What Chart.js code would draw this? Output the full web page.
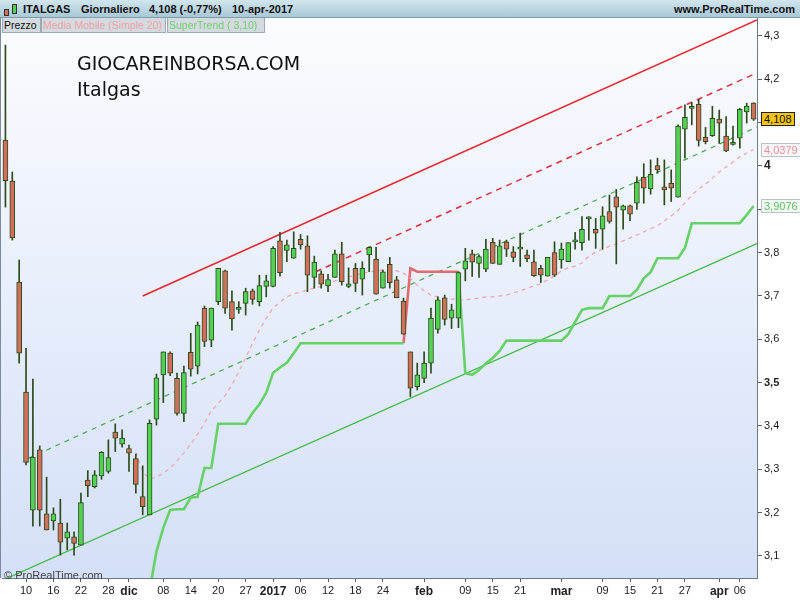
<!DOCTYPE html>
<html>
<head>
<meta charset="utf-8">
<script src="https://cdn.jsdelivr.net/npm/chart.js@4.4.1/dist/chart.umd.min.js"></script>
<style>
html,body{margin:0;padding:0;background:#fff;width:800px;height:600px;overflow:hidden;font-family:"Liberation Sans",Arial,sans-serif}
#hdr{position:absolute;left:0;top:0;width:800px;height:18px;background:linear-gradient(#d2e5ee,#a8c8d7);border-bottom:1px solid #7f9cab;box-sizing:border-box}
#hdr span{position:absolute;top:3px;font-size:11px;font-weight:bold;color:#111;white-space:nowrap}
#hdr i{position:absolute;border:1px solid #333;box-sizing:border-box}
#leg span{position:absolute;top:18px;height:15px;line-height:14px;font-size:10.5px;background:#d3dbe0;border:1px solid #9aaab4;border-top:none;box-sizing:border-box;padding:0 1px;white-space:nowrap;overflow:hidden;z-index:2}
#wrap{position:absolute;left:0;top:18px;width:800px;height:582px}
.wm{position:absolute;left:77px;font-family:"DejaVu Sans",sans-serif;font-size:19px;line-height:19px;color:#111;white-space:nowrap}
.vb{position:absolute;left:761px;top:-50px;height:14px;line-height:13px;font-size:11px;box-sizing:border-box;padding:0 2px;white-space:nowrap}
#copy{position:absolute;left:4px;top:569px;font-size:11px;color:#444}
</style>
</head>
<body>
<div id="hdr">
  <i style="left:4px;top:9px;width:5px;height:7px;background:#d0705a"></i>
  <i style="left:12px;top:4px;width:5px;height:10px;background:#50d050"></i>
  <span style="left:23px">ITALGAS</span>
  <span style="left:81px">Giornaliero</span>
  <span style="left:149px">4,108 (-0,77%)</span>
  <span style="left:232px">10-apr-2017</span>
  <span style="right:5px">www.ProRealTime.com</span>
</div>
<div id="leg">
  <span style="left:2px;width:39px;color:#111">Prezzo</span>
  <span style="left:41px;width:125px;color:#f2a0a4">Media Mobile (Simple 20)</span>
  <span style="left:167px;width:98px;color:#72cc72">SuperTrend ( 3,10)</span>
</div>
<div id="wrap"><canvas id="c" width="800" height="582"></canvas></div>
<div class="wm" style="top:54px">GIOCAREINBORSA.COM</div>
<div class="wm" style="top:80px">Italgas</div>
<div id="copy">© ProRealTime.com</div>
<div id="vbClose" class="vb" style="background:#f3c316;border:1px solid #222;color:#111"></div>
<div id="vbSma" class="vb" style="background:#f6f6f8;border:1px solid #b8c2cc;color:#ee8e98"></div>
<div id="vbSt" class="vb" style="background:#f2f8f2;border:1px solid #b8c2cc;color:#62c062"></div>
<script>
'use strict';
// ITALGAS daily, 7 nov 2016 - 10 apr 2017 (index = trading day)
var opens = [
  4.060,3.965,3.732,3.478,3.206,3.345,3.197,3.181,3.176,3.141,
  3.144,3.125,3.275,3.260,3.285,3.295,3.386,3.358,3.348,3.325,
  3.237,3.195,3.416,3.518,3.568,3.510,3.429,3.570,3.538,3.672,
  3.598,3.687,3.758,3.687,3.669,3.683,3.712,3.687,3.722,3.722,
  3.827,3.805,3.787,3.831,3.816,3.743,3.751,3.723,3.743,3.797,
  3.722,3.764,3.739,3.795,3.785,3.718,3.773,3.737,3.688,3.571,
  3.491,3.510,3.545,3.623,3.696,3.649,3.649,3.762,3.797,3.775,
  3.762,3.824,3.773,3.825,3.802,3.808,3.795,3.779,3.764,3.746,
  3.800,3.783,3.779,3.825,3.823,3.878,3.854,3.854,3.895,3.929,
  3.898,3.908,3.914,3.974,3.947,4.001,3.952,3.960,3.928,4.085,
  4.133,4.142,4.066,4.070,4.108,4.069,4.050,4.064,4.125,4.145];
var highs = [
  4.279,3.986,3.783,3.579,3.508,3.354,3.282,3.211,3.231,3.176,
  3.156,3.245,3.297,3.297,3.341,3.368,3.405,3.391,3.356,3.335,
  3.308,3.414,3.520,3.571,3.571,3.522,3.538,3.614,3.640,3.677,
  3.672,3.764,3.760,3.712,3.687,3.718,3.716,3.748,3.748,3.814,
  3.847,3.829,3.848,3.842,3.839,3.792,3.758,3.750,3.806,3.824,
  3.765,3.775,3.779,3.814,3.812,3.760,3.789,3.745,3.695,3.571,
  3.545,3.571,3.672,3.698,3.702,3.681,3.756,3.810,3.806,3.795,
  3.831,3.833,3.829,3.829,3.814,3.845,3.806,3.806,3.771,3.789,
  3.825,3.822,3.823,3.847,3.883,3.883,3.879,3.906,3.933,3.946,
  3.910,3.910,3.975,4.005,4.014,4.018,4.014,3.991,4.095,4.141,
  4.146,4.154,4.089,4.138,4.129,4.114,4.092,4.133,4.145,4.146];
var lows = [
  3.905,3.829,3.545,3.310,3.169,3.169,3.160,3.160,3.102,3.114,
  3.102,3.125,3.237,3.257,3.277,3.291,3.341,3.351,3.295,3.245,
  3.195,3.195,3.402,3.454,3.516,3.425,3.410,3.515,3.520,3.583,
  3.583,3.680,3.660,3.621,3.660,3.656,3.681,3.677,3.698,3.721,
  3.746,3.779,3.787,3.808,3.710,3.718,3.718,3.710,3.743,3.725,
  3.719,3.710,3.702,3.756,3.704,3.718,3.718,3.696,3.612,3.468,
  3.483,3.500,3.522,3.614,3.633,3.625,3.627,3.735,3.745,3.743,
  3.756,3.775,3.773,3.791,3.779,3.768,3.779,3.745,3.731,3.746,
  3.745,3.764,3.779,3.808,3.806,3.829,3.810,3.808,3.868,3.774,
  3.854,3.874,3.900,3.914,3.935,3.983,3.910,3.918,3.928,4.018,
  4.095,4.046,4.051,4.068,4.052,4.033,4.048,4.041,4.099,4.105];
var closes = [
  3.966,3.834,3.568,3.316,3.328,3.206,3.160,3.197,3.132,3.156,
  3.129,3.223,3.262,3.287,3.339,3.327,3.372,3.372,3.337,3.265,
  3.214,3.406,3.511,3.571,3.522,3.429,3.523,3.531,3.633,3.595,
  3.672,3.764,3.672,3.647,3.669,3.710,3.692,3.724,3.735,3.810,
  3.754,3.818,3.810,3.818,3.748,3.778,3.727,3.738,3.797,3.733,
  3.728,3.729,3.764,3.812,3.704,3.756,3.731,3.696,3.612,3.487,
  3.518,3.545,3.649,3.691,3.646,3.668,3.754,3.781,3.778,3.791,
  3.808,3.775,3.816,3.808,3.789,3.808,3.786,3.747,3.748,3.789,
  3.748,3.808,3.823,3.825,3.854,3.881,3.845,3.885,3.872,3.905,
  3.908,3.889,3.962,3.949,3.981,3.991,3.945,3.949,4.092,4.112,
  4.137,4.059,4.056,4.110,4.099,4.035,4.050,4.131,4.138,4.108];
// Media Mobile (Simple 20)
var sma20 = [
  null,null,null,null,null,null,null,null,null,null,
  null,null,null,null,null,null,null,null,null,3.340,
  3.294,3.278,3.282,3.291,3.303,3.319,3.338,3.358,3.381,3.407,
  3.435,3.452,3.470,3.495,3.525,3.557,3.591,3.621,3.649,3.672,
  3.686,3.698,3.705,3.709,3.714,3.718,3.723,3.730,3.735,3.739,
  3.744,3.748,3.753,3.755,3.758,3.760,3.760,3.758,3.753,3.741,
  3.725,3.712,3.702,3.698,3.695,3.693,3.692,3.691,3.693,3.695,
  3.698,3.698,3.700,3.702,3.707,3.712,3.718,3.723,3.728,3.737,
  3.746,3.758,3.765,3.769,3.776,3.792,3.801,3.808,3.815,3.820,
  3.827,3.834,3.841,3.848,3.855,3.862,3.873,3.885,3.898,3.915,
  3.933,3.947,3.958,3.972,3.986,3.998,4.009,4.021,4.030,4.0379];
// SuperTrend (3,10): rising part and falling part
var stUp = [
  null,null,null,null,null,null,null,null,null,null,
  null,null,null,null,null,null,null,null,null,null,
  null,3.020,3.110,3.165,3.206,3.208,3.208,3.235,3.236,3.303,
  3.303,3.405,3.405,3.405,3.405,3.405,3.430,3.450,3.477,3.523,
  3.535,3.546,3.568,3.591,3.591,3.591,3.591,3.591,3.591,3.591,
  3.591,3.591,3.591,3.591,3.591,3.591,3.591,3.591,3.591,null,
  null,null,null,null,null,null,3.756,3.522,3.518,3.529,
  3.545,3.557,3.573,3.597,3.597,3.597,3.597,3.597,3.597,3.597,
  3.597,3.597,3.612,3.640,3.668,3.672,3.672,3.672,3.700,3.700,
  3.700,3.700,3.714,3.741,3.755,3.787,3.787,3.787,3.787,3.811,
  3.868,3.868,3.868,3.868,3.868,3.868,3.868,3.868,3.887,3.9076];
var stDown = [
  null,null,null,null,null,null,null,null,null,null,
  null,null,null,null,null,null,null,null,null,null,
  null,null,null,null,null,null,null,null,null,null,
  null,null,null,null,null,null,null,null,null,null,
  null,null,null,null,null,null,null,null,null,null,
  null,null,null,null,null,null,null,null,3.591,3.764,
  3.756,3.756,3.756,3.756,3.756,3.756,3.756,null,null,null,
  null,null,null,null,null,null,null,null,null,null,
  null,null,null,null,null,null,null,null,null,null,
  null,null,null,null,null,null,null,null,null,null,
  null,null,null,null,null,null,null,null,null,null];
// channel lines drawn on the chart (x = day index, y = price)
var redTopX = [20, 109.5],   redTopY = [3.700, 4.337];
var redMidX = [45.2, 109.5], redMidY = [3.756, 4.215];
var grnLowX = [0, 109.5],    grnLowY = [3.047, 3.821];
var grnMidX = [3.3, 109.5],  grnMidY = [3.325, 4.090];
var xTickIdx = [3,7,11,15,18,23,27,31,35,39,43,47,51,55,61,67,71,75,81,87,91,95,99,104,107];
var xTickText = ['10','16','22','28','dic','08','14','20','27','2017','06','12','18','24',
  'feb','09','15','21','mar','09','15','21','27','apr','06'];
var yTickVals = [3.1,3.2,3.3,3.4,3.5,3.6,3.7,3.8,3.9,4.0,4.1,4.2,4.3];

(function () {
    var GREEN = '#52d252', RED = '#d0705a', EDGE = '#2c4a1c';
    var FAM = '"Liberation Sans", Arial, sans-serif';
    function pts(xs, ys)
    {
        return ys.map(function (v, i) {
            return { x: xs ? xs[i] : i, y: v }; });
    }
    function comma(v, d)
    {
        return v.toFixed(d).replace('.', ','); }
    var bodies = opens.map(function (o, i) {
        return { x: i, y: [o, closes[i]] }; });
    var wicks = lows.map(function (l, i) {
        return { x: i, y: [l, highs[i]] }; });
    function line(label, data, color, width, dash)
    {
        return { type: 'line', label: label, data: data, borderColor: color, borderWidth: width,
            borderDash: dash || [], pointRadius: 0, fill: false, tension: 0, order: 5 };
    }
    var bg = {
        id: 'bg',
        beforeDraw: function (chart) {
            var c = chart.ctx, a = chart.chartArea;
            var g = c.createLinearGradient(0, a.top, 0, a.bottom);
            g.addColorStop(0, '#fbfcfe'); g.addColorStop(1, '#d4e0f8');
            c.save(); c.fillStyle = g; c.fillRect(0, a.top, a.right, a.bottom - a.top);
            c.strokeStyle = '#7d8b99'; c.lineWidth = 1; c.beginPath();
            c.moveTo(0.5, a.top); c.lineTo(0.5, a.bottom); c.stroke(); c.restore();
        }
    };
    var chart = new Chart(document.getElementById('c').getContext('2d'), {
        type: 'bar',
        data: {
            datasets: [
                { label: 'body', data: bodies, grouped: false, barThickness: 5, minBarLength: 2,
                    borderSkipped: false, borderWidth: 1, borderColor: EDGE, order: 0,
                    backgroundColor: function (ctx) {
                        var i = ctx.dataIndex; return closes[i] >= opens[i] ? GREEN : RED; } },
                { label: 'wick', data: wicks, grouped: false, barThickness: 1, borderWidth: 0,
                    backgroundColor: EDGE, order: 1 },
                line('sma', pts(null, sma20), '#f3a6ae', 1.3, [4, 4]),
                line('stUp', pts(null, stUp), '#66d166', 2.6),
                line('stDown', pts(null, stDown), '#e36a6a', 2.6),
                line('redTop', pts(redTopX, redTopY), '#e8262c', 1.5),
                line('redMid', pts(redMidX, redMidY), '#e0303a', 1.5, [6, 5]),
                line('grnLow', pts(grnLowX, grnLowY), '#3cb83c', 1.2),
                line('grnMid', pts(grnMidX, grnMidY), '#44a844', 1.2, [5, 5])
            ]
        },
        options: {
            responsive: false,
            animation: false,
            devicePixelRatio: 1,
            layout: { padding: { left: 2, top: 0, right: 0, bottom: 0 } },
            plugins: { legend: { display: false }, tooltip: { enabled: false } },
            scales: {
                x: {
                    type: 'linear', min: -0.5, max: 109.5, offset: false,
                    grid: { drawOnChartArea: false, offset: false, tickLength: 4, color: '#556070' },
                    border: { color: '#6b7b88' },
                    afterBuildTicks: function (s) {
                        s.ticks = xTickIdx.map(function (v) {
                            return { value: v }; }); },
                    afterFit: function (s) {
                        s.height = 22; s.paddingLeft = 0; s.paddingRight = 0; },
                    ticks: {
                        autoSkip: false, maxRotation: 0, padding: 2, color: '#222',
                        callback: function (v, i) {
                            return xTickText[i]; },
                        font: function (ctx) {
                            var t = ctx.index !== undefined ? xTickText[ctx.index] : '';
                            var b = t === 'dic' || t === 'feb' || t === 'mar' || t === 'apr' || t === '2017';
                            return { size: b ? 12 : 11, weight: b ? 'bold' : 'normal', family: FAM };
                        }
                    }
                },
                y: {
                    position: 'right', min: 3.0492, max: 4.3415, beginAtZero: false,
                    grid: { drawOnChartArea: false, tickLength: 5, color: '#556070' },
                    border: { color: '#6b7b88' },
                    afterBuildTicks: function (s) {
                        s.ticks = yTickVals.map(function (v) {
                            return { value: v }; }); },
                    afterFit: function (s) {
                        s.width = 43; s.paddingTop = 0; s.paddingBottom = 0; },
                    ticks: {
                        padding: 2, color: '#222',
                        callback: function (v) {
                            var r = Math.round(v * 10) / 10;
                            if (r === 3.9 || r === 4.1) {
                                return ''; }
                            return String(r).replace('.', ','); },
                        font: function (ctx) {
                            var r = ctx.tick ? Math.round(ctx.tick.value * 10) / 10 : 0;
                            var b = r === 4 || r === 3.5;
                            return { size: r === 4 ? 12 : 11, weight: b ? 'bold' : 'normal', family: FAM };
                        }
                    }
                }
            }
        },
        plugins: [bg]
    });
    // value boxes on the price axis
    var ys = chart.scales.y, last = closes.length - 1;
    function place(id, v, d)
    {
        var el = document.getElementById(id);
        el.textContent = comma(v, d);
        el.style.top = (ys.getPixelForValue(v) + 18 - 7) + 'px';
    }
    place('vbClose', closes[last], 3);
    place('vbSma', sma20[last], 4);
    place('vbSt', stUp[last], 4);
})();
</script>
</body>
</html>
